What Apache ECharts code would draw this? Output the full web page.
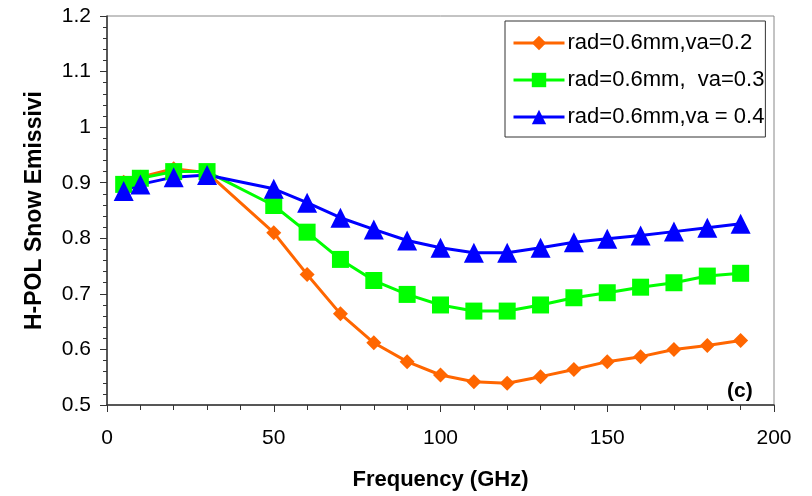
<!DOCTYPE html>
<html>
<head>
<meta charset="utf-8">
<script src="https://cdn.jsdelivr.net/npm/echarts@6/dist/echarts.min.js"></script>
<style>html,body{margin:0;padding:0;background:#fff}#c{width:812px;height:496px}</style>
</head>
<body>
<div id="c"></div>
<script>
var freq = [5,10,20,30,50,60,70,80,90,100,110,120,130,140,150,160,170,180,190];
var va02 = [0.901,0.910,0.925,0.918,0.810,0.735,0.664,0.612,0.578,0.554,0.542,0.539,0.551,0.564,0.578,0.587,0.600,0.607,0.616];
var va03 = [0.897,0.908,0.920,0.920,0.859,0.811,0.762,0.724,0.699,0.680,0.669,0.669,0.680,0.693,0.702,0.712,0.720,0.732,0.737];
var va04 = [0.885,0.897,0.910,0.914,0.889,0.864,0.837,0.816,0.796,0.783,0.774,0.774,0.783,0.793,0.799,0.805,0.812,0.819,0.826];
var seriesNames = ['rad=0.6mm,va=0.2','rad=0.6mm,  va=0.3','rad=0.6mm,va = 0.4'];
var xTitle = 'Frequency (GHz)';
var yTitle = 'H-POL Snow Emissivi';
var panelTag = '(c)';

function pairs(xs, ys){ return xs.map(function(x,i){ return [x, ys[i]]; }); }

var font = 'Liberation Sans, Arial, sans-serif';
var chart = echarts.init(document.getElementById('c'), null, {renderer:'canvas'});
chart.setOption({
  animation:false,
  backgroundColor:'#fff',
  grid:{left:107,right:38,top:16,bottom:90,show:true,borderColor:'#888',borderWidth:1,backgroundColor:'transparent'},
  legend:{
    orient:'vertical', left:505, top:21,
    padding:[11,1,9,7], itemGap:15,
    itemWidth:51, itemHeight:18,
    borderColor:'#333', borderWidth:1, backgroundColor:'#fff',
    lineStyle:{width:3},
    textStyle:{fontFamily:font,fontSize:22,color:'#000',padding:[0,0,0,-2]},
    data:seriesNames
  },
  xAxis:{
    type:'value', min:0, max:200, interval:50,
    name:xTitle, nameLocation:'middle', nameGap:64,
    nameTextStyle:{fontFamily:font,fontSize:22,fontWeight:'bold',color:'#000'},
    axisLine:{show:true,onZero:false,lineStyle:{color:'#333',width:1.5}},
    axisTick:{show:true,inside:false,length:7,lineStyle:{color:'#333',width:1}},
    minorTick:{show:true,splitNumber:5,length:5,lineStyle:{color:'#333',width:1}},
    splitLine:{show:false},
    axisLabel:{fontFamily:font,fontSize:21,color:'#000',margin:23}
  },
  yAxis:{
    type:'value', min:0.5, max:1.2, interval:0.1,
    name:yTitle, nameLocation:'middle', nameGap:61, nameRotate:90,
    nameTextStyle:{fontFamily:font,fontSize:23,fontWeight:'bold',color:'#000'},
    axisLine:{show:true,onZero:false,lineStyle:{color:'#333',width:1.5}},
    axisTick:{show:true,inside:false,length:7,lineStyle:{color:'#333',width:1}},
    minorTick:{show:true,splitNumber:5,length:4,lineStyle:{color:'#333',width:1}},
    splitLine:{show:false},
    axisLabel:{fontFamily:font,fontSize:21,color:'#000',margin:16}
  },
  series:[
    {name:seriesNames[0],type:'line',data:pairs(freq,va02),symbol:'diamond',symbolSize:[15,15],
     lineStyle:{color:'#FF6600',width:3},itemStyle:{color:'#FF6600'}},
    {name:seriesNames[1],type:'line',data:pairs(freq,va03),symbol:'rect',symbolSize:[17,17],
     lineStyle:{color:'#00FF00',width:3},itemStyle:{color:'#00FF00'}},
    {name:seriesNames[2],type:'line',data:pairs(freq,va04),symbol:'triangle',symbolSize:[20,20],
     lineStyle:{color:'#0000FF',width:3},itemStyle:{color:'#0000FF'}}
  ],
  graphic:[
    {type:'text',left:727,top:381,style:{text:panelTag,font:'bold 21px Liberation Sans, Arial, sans-serif',fill:'#000'}}
  ]
});
</script>
</body>
</html>
